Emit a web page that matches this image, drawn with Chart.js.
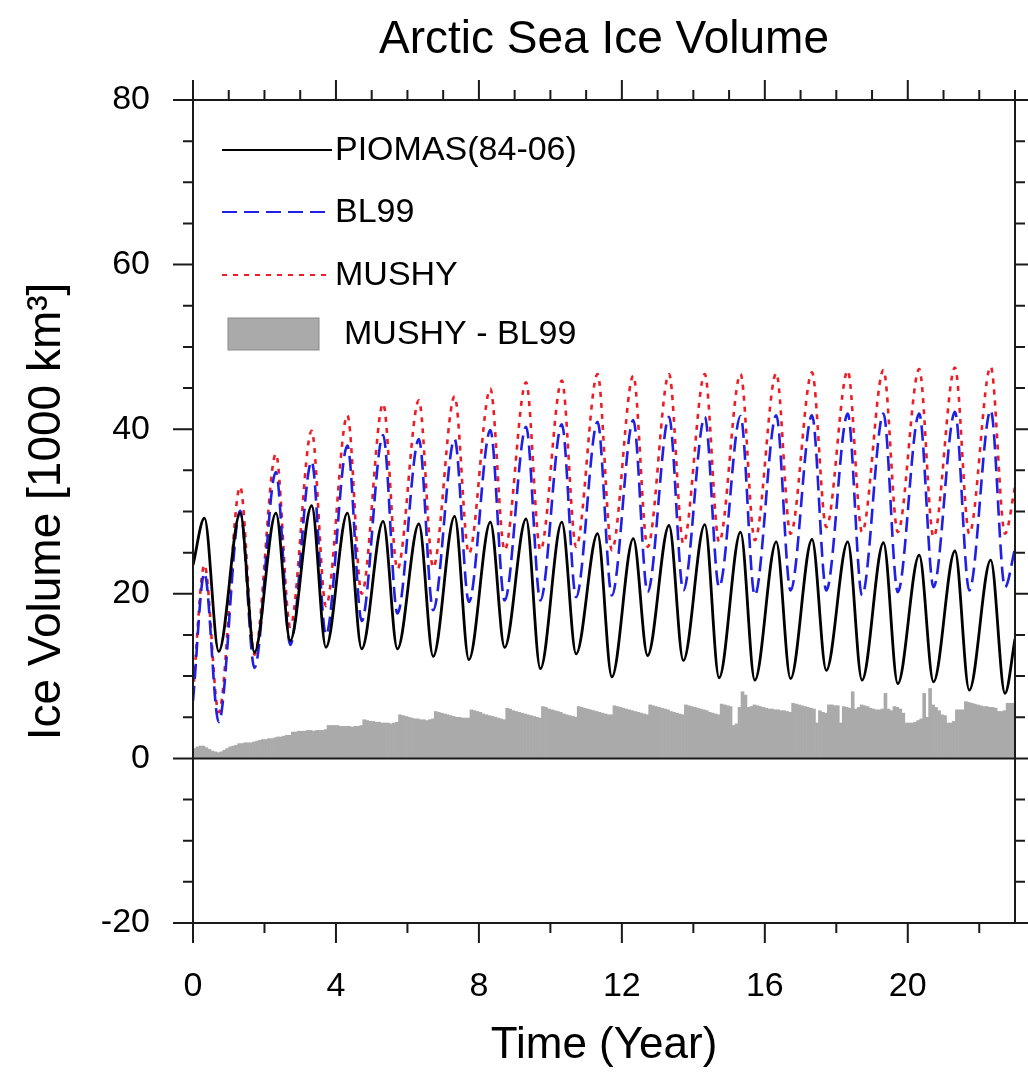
<!DOCTYPE html>
<html>
<head>
<meta charset="utf-8">
<title>Arctic Sea Ice Volume</title>
<script src="https://cdn.jsdelivr.net/npm/chart.js@4.4.0/dist/chart.umd.min.js"></script>
<style>
  html, body { margin: 0; padding: 0; background: #ffffff; }
  #wrap { width: 1028px; height: 1072px; }
</style>
</head>
<body>
<div id="wrap"><canvas id="iceChart"></canvas></div>
<script>
// Seasonal max (spring) and min (September) per model year, in 1000 km^3
const peakPhase = 0.32;
const troughPhase = 0.72;

const piomasStart = 23.5;
const piomasEnd = 14.5;
const piomasPeaks = [29.2, 29.8, 29.8, 30.7, 29.8, 28.8, 28.5, 29.4, 28.7, 29.1, 28.7, 27.3,
                     26.7, 28.3, 28.4, 27.5, 26.3, 26.6, 26.3, 26.2, 24.7, 25.2, 24.1];
const piomasTroughs = [13.0, 12.9, 14.3, 13.5, 13.3, 13.3, 12.4, 12.0, 13.5, 10.9, 12.7, 9.9,
                       12.5, 11.9, 9.8, 9.5, 9.7, 10.7, 9.5, 9.1, 9.3, 8.3, 7.9];

const bl99Start = 7.0;
const bl99End = 25.5;
const bl99Peaks = [22.5, 30.1, 34.8, 36.1, 38.0, 39.3, 38.8, 38.8, 39.9, 40.3, 40.6, 40.9,
                   41.1, 41.5, 41.5, 41.6, 41.7, 41.7, 41.9, 41.9, 41.9, 42.1, 42.3];
const bl99Troughs = [4.4, 11.0, 13.8, 15.0, 16.7, 17.6, 18.0, 19.0, 19.2, 19.2, 19.6, 19.8,
                     20.2, 20.4, 20.8, 19.8, 20.4, 20.4, 19.8, 20.2, 20.8, 20.4, 20.8];

const mushyStart = 8.0;
const mushyEnd = 33.0;
const mushyPeaks = [23.5, 33.0, 37.0, 39.8, 41.7, 43.1, 43.5, 44.0, 44.9, 45.7, 45.9, 46.7,
                    46.5, 46.7, 46.7, 46.7, 46.8, 46.9, 47.1, 47.2, 47.3, 47.5, 47.6];
const mushyTroughs = [5.6, 12.6, 16.0, 18.5, 20.0, 23.0, 23.2, 24.9, 25.3, 25.3, 25.7, 25.3,
                      25.7, 26.1, 26.3, 26.5, 27.3, 28.1, 27.5, 27.5, 26.9, 27.3, 27.3];

// MUSHY - BL99, monthly, one row per year
const diffMonthly = [
  1.2, 1.4, 1.5, 1.5, 1.3, 1.1, 0.9, 0.8, 0.7, 0.8, 1.0, 1.2,
  1.4, 1.5, 1.6, 1.8, 1.8, 1.9, 1.9, 1.9, 2.0, 2.1, 2.2, 2.3,
  2.3, 2.4, 2.4, 2.5, 2.6, 2.6, 2.7, 2.8, 2.8, 3.2, 3.2, 3.3,
  3.3, 3.3, 3.4, 3.4, 3.3, 3.4, 3.4, 3.4, 3.5, 4.0, 4.0, 4.0,
  4.0, 3.9, 3.9, 3.9, 3.9, 3.8, 3.9, 3.9, 4.0, 4.7, 4.6, 4.5,
  4.5, 4.4, 4.4, 4.3, 4.3, 4.3, 4.2, 4.3, 4.4, 5.3, 5.2, 5.1,
  5.0, 4.9, 4.8, 4.8, 4.7, 4.7, 4.6, 4.7, 4.8, 5.7, 5.6, 5.5,
  5.4, 5.3, 5.2, 5.1, 5.0, 5.0, 4.9, 4.9, 4.9, 5.9, 5.8, 5.7,
  5.6, 5.4, 5.3, 5.2, 5.1, 5.0, 4.9, 4.8, 4.7, 6.1, 6.0, 5.8,
  5.7, 5.6, 5.5, 5.4, 5.3, 5.2, 5.1, 5.0, 4.9, 6.3, 6.2, 6.0,
  5.9, 5.8, 5.7, 5.6, 5.4, 5.3, 5.2, 5.1, 5.0, 6.3, 6.2, 6.1,
  6.0, 5.9, 5.8, 5.7, 5.6, 5.5, 5.4, 5.3, 5.3, 6.4, 6.3, 6.2,
  6.1, 6.0, 5.9, 5.8, 5.7, 5.6, 5.5, 5.4, 5.3, 6.5, 6.4, 6.3,
  6.2, 6.1, 6.0, 5.9, 5.7, 5.6, 5.5, 5.4, 5.3, 6.5, 6.4, 6.3,
  6.2, 6.1, 6.0, 5.9, 5.8, 5.6, 5.5, 5.4, 5.3, 6.6, 6.5, 6.4,
  6.3, 4.0, 4.2, 6.2, 8.1, 7.7, 6.2, 6.3, 6.5, 6.4, 6.3, 6.2,
  6.1, 6.0, 6.0, 5.9, 5.9, 5.8, 5.8, 5.7, 5.6, 6.7, 6.6, 6.5,
  6.4, 6.3, 6.2, 6.1, 6.0, 4.3, 5.8, 5.6, 5.5, 6.5, 6.5, 6.4,
  6.4, 4.3, 6.3, 6.2, 6.1, 8.1, 6.0, 6.2, 6.5, 6.4, 6.3, 6.1,
  6.0, 5.9, 5.9, 6.0, 7.9, 6.0, 5.8, 6.3, 6.2, 6.0, 5.5, 4.3,
  4.3, 4.3, 4.4, 4.6, 4.8, 7.9, 5.0, 8.5, 6.5, 6.2, 5.8, 5.3,
  5.2, 4.3, 4.3, 4.5, 5.9, 5.9, 5.9, 6.9, 6.8, 6.7, 6.6, 6.5,
  6.4, 6.3, 6.3, 6.2, 6.2, 6.1, 5.7, 5.7, 5.8, 6.7, 6.7, 6.7
];

const yearMin = 0;
const yearMax = 23;
const volMin = -20;
const volMax = 80;

function seasonalPoints(start, peaks, troughs, end) {
    const pts = [{x: yearMin, y: start}];
    peaks.forEach((p, i) => {
        pts.push({x: i + peakPhase, y: p});
        pts.push({x: i + troughPhase, y: troughs[i]});
    });
    pts.push({x: yearMax, y: end});
    return pts;
}

const FONT = '"Liberation Sans", Arial, Helvetica, sans-serif';
Chart.defaults.font.family = FONT;
Chart.defaults.color = '#000000';

// frame, zero line and NCL-style outward tick marks
const frameTicks = {
    id: 'frameTicks',
    afterDatasetsDraw(chart) {
        const {ctx, chartArea: a, scales: {x, y}} = chart;
        ctx.save();
        ctx.strokeStyle = '#1a1a1a';
        ctx.lineWidth = 2;
        ctx.beginPath();
        ctx.moveTo(a.left, y.getPixelForValue(0));
        ctx.lineTo(a.right, y.getPixelForValue(0));
        ctx.stroke();
        ctx.strokeRect(a.left, a.top, a.right - a.left, a.bottom - a.top);

        ctx.beginPath();
        for (let v = volMin; v <= volMax; v += 5) {
            const py = y.getPixelForValue(v);
            const len = v % 20 === 0 ? 20 : 10;
            ctx.moveTo(a.left, py); ctx.lineTo(a.left - len, py);
            ctx.moveTo(a.right, py); ctx.lineTo(a.right + len, py);
        }
        for (let t = 0; t <= yearMax; t += 1) {
            const px = x.getPixelForValue(t);
            const len = t % 4 === 0 ? 20 : 10;
            ctx.moveTo(px, a.top); ctx.lineTo(px, a.top - len);
            if (t % 2 === 0) {
                ctx.moveTo(px, a.bottom); ctx.lineTo(px, a.bottom + len);
            }
        }
        ctx.stroke();
        ctx.restore();
    }
};

// legend drawn inside the plot, line samples on the left
const plotLegend = {
    id: 'plotLegend',
    afterDraw(chart) {
        const {ctx, chartArea: a} = chart;
        const ds = chart.data.datasets;
        ctx.save();
        ctx.font = '34px ' + FONT;
        ctx.fillStyle = '#000';
        ctx.textBaseline = 'middle';
        const rows = [50, 112, 175];
        [0, 1, 2].forEach((k, i) => {
            const yy = a.top + rows[i];
            ctx.strokeStyle = ds[k].borderColor;
            ctx.lineWidth = 2;
            ctx.setLineDash(ds[k].borderDash || []);
            ctx.beginPath();
            ctx.moveTo(a.left + 29, yy);
            ctx.lineTo(a.left + 139, yy);
            ctx.stroke();
            ctx.setLineDash([]);
            ctx.fillText(ds[k].label, a.left + 142, yy + 1);
        });
        const bar = ds[3];
        ctx.fillStyle = bar.backgroundColor;
        ctx.fillRect(a.left + 35, a.top + 218, 91, 32);
        ctx.strokeStyle = '#8a8a8a';
        ctx.lineWidth = 1;
        ctx.strokeRect(a.left + 35, a.top + 218, 91, 32);
        ctx.fillStyle = '#000';
        ctx.fillText(bar.label, a.left + 151, a.top + 235);
        ctx.restore();
    }
};

const ctx = document.getElementById('iceChart').getContext('2d');
new Chart(ctx, {
    type: 'line',
    data: {
        datasets: [{
            label: 'PIOMAS(84-06)',
            data: seasonalPoints(piomasStart, piomasPeaks, piomasTroughs, piomasEnd),
            borderColor: '#000000',
            borderWidth: 2.8,
            cubicInterpolationMode: 'monotone',
            pointRadius: 0,
            order: 1
        }, {
            label: 'BL99',
            data: seasonalPoints(bl99Start, bl99Peaks, bl99Troughs, bl99End),
            borderColor: '#1f1fe6',
            borderWidth: 2.6,
            borderDash: [15, 7],
            cubicInterpolationMode: 'monotone',
            pointRadius: 0,
            order: 2
        }, {
            label: 'MUSHY',
            data: seasonalPoints(mushyStart, mushyPeaks, mushyTroughs, mushyEnd),
            borderColor: '#ee1c24',
            borderWidth: 2.6,
            borderDash: [5, 6],
            cubicInterpolationMode: 'monotone',
            pointRadius: 0,
            order: 3
        }, {
            type: 'bar',
            label: 'MUSHY - BL99',
            data: diffMonthly.map((v, i) => ({x: (i + 0.5) / 12, y: v})),
            backgroundColor: '#aaaaaa',
            borderWidth: 0,
            barPercentage: 1,
            categoryPercentage: 1,
            order: 4
        }]
    },
    options: {
        responsive: true,
        maintainAspectRatio: false,
        animation: false,
        layout: {
            padding: {left: 0, right: 13, top: 0, bottom: 0}
        },
        plugins: {
            legend: {display: false},
            tooltip: {enabled: false},
            title: {
                display: true,
                text: 'Arctic Sea Ice Volume',
                fullSize: false,
                color: '#000',
                font: {size: 46, weight: 'normal', family: FONT},
                padding: {top: 13, bottom: 31.8}
            }
        },
        scales: {
            x: {
                type: 'linear',
                min: yearMin,
                max: yearMax,
                offset: false,
                grid: {display: false, drawTicks: false, offset: false},
                border: {display: false},
                ticks: {
                    stepSize: 4,
                    includeBounds: false,
                    maxRotation: 0,
                    padding: 43,
                    color: '#000',
                    font: {size: 34}
                },
                title: {
                    display: true,
                    text: 'Time (Year)',
                    color: '#000',
                    font: {size: 44},
                    padding: {top: 0, bottom: 0}
                },
                afterFit(scale) { scale.height = 149; }
            },
            y: {
                min: volMin,
                max: volMax,
                grid: {display: false, drawTicks: false},
                border: {display: false},
                ticks: {
                    stepSize: 20,
                    padding: 43,
                    color: '#000',
                    font: {size: 34}
                },
                title: {
                    display: true,
                    text: 'Ice Volume [1000 km\u00b3]',
                    color: '#000',
                    font: {size: 46},
                    padding: {top: 20, bottom: 0}
                },
                afterFit(scale) { scale.width = 193; }
            }
        }
    },
    plugins: [frameTicks, plotLegend]
});
</script>
</body>
</html>
